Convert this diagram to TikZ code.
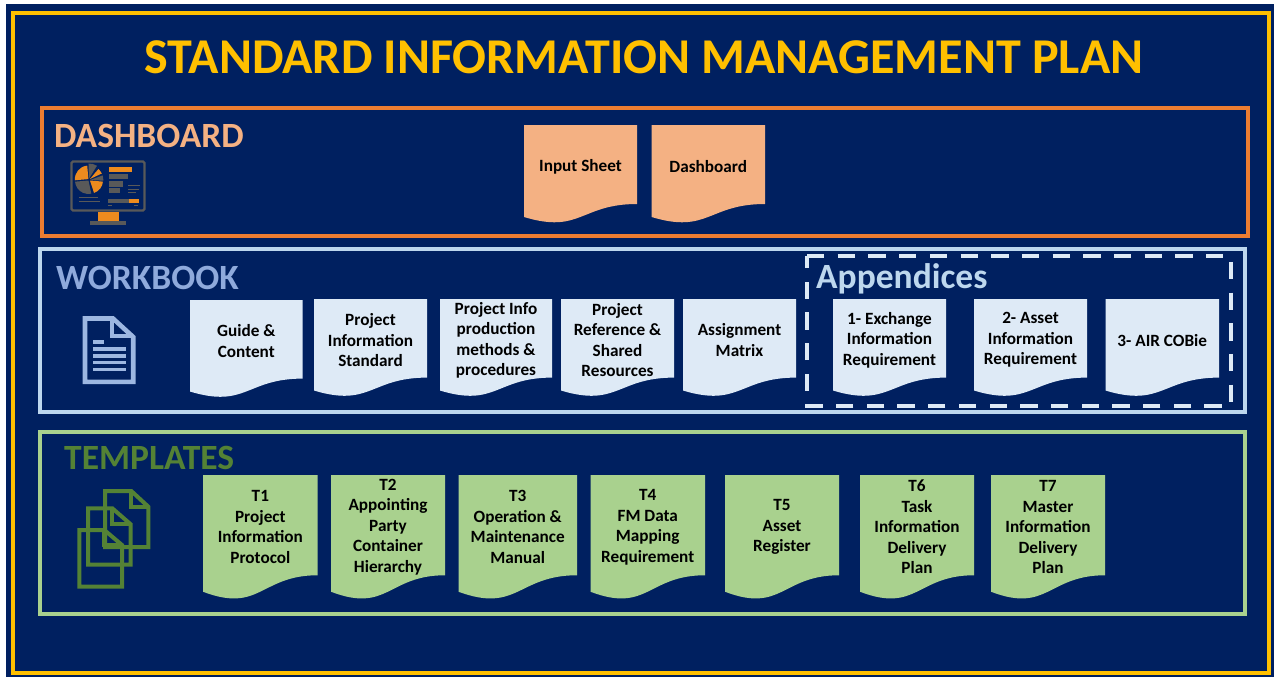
\documentclass[tikz,border=0pt]{standalone}
\usepackage{fontspec}
\setmainfont{Carlito}
\definecolor{navy}{HTML}{002060}
\definecolor{gold}{HTML}{FFC000}
\definecolor{orangeline}{HTML}{ED7D31}
\definecolor{peach}{HTML}{F4B183}
\definecolor{paleblue}{HTML}{DEEAF6}
\definecolor{lineblue}{HTML}{BDD7EE}
\definecolor{midblue}{HTML}{8FAADC}
\definecolor{leaf}{HTML}{A9D18E}
\definecolor{moss}{HTML}{548235}
\definecolor{iconorange}{HTML}{ED8B1E}
\definecolor{icongray}{HTML}{595959}
\tikzset{
  panel/.style={draw=#1,line width=4pt,fill=none},
  doctext/.style={inner sep=0pt,align=center,text=black,font=\fontsize{17.2}{20.5}\selectfont\bfseries},
  sectitle/.style={inner sep=0pt,anchor=west,font=\fontsize{35.5}{38}\selectfont\bfseries},
  igray/.style={fill=icongray,draw=none},
  iorange/.style={fill=iconorange,draw=none},
  iline/.style={draw=icongray,line width=1pt},
}
% name, left, right, top, height, colour, text
\newcommand{\docshape}[7]{%
  \pgfmathsetmacro{\dl}{#2}\pgfmathsetmacro{\dr}{#3}\pgfmathsetmacro{\dt}{#4}%
  \pgfmathsetmacro{\dm}{(#2+#3)/2}%
  \pgfmathsetmacro{\dyr}{#4+0.802*#5}\pgfmathsetmacro{\dyl}{#4+0.934*#5}\pgfmathsetmacro{\dyc}{#4+1.108*#5}%
  \pgfmathsetmacro{\dyt}{#4+0.405*#5+1.5}%
  \fill[#6] (\dl,\dt) -- (\dr,\dt) -- (\dr,\dyr) .. controls (\dm,\dyr) and (\dm,\dyc) .. (\dl,\dyl) -- cycle;%
  \node[doctext] (#1) at (\dm,\dyt) {#7};%
}
\begin{document}
\begin{tikzpicture}[yscale=-1,x=1pt,y=1pt]
\useasboundingbox (0,0) rectangle (1274,677);
\fill[white] (0,0) rectangle (1274,677);
\fill[navy] (6,4) rectangle (1274,677);
\draw[panel=gold] (13,13.5) rectangle (1269,672.5);
\node[inner sep=0pt,text=gold,font=\fontsize{50.1}{54}\selectfont\bfseries] (title) at (644,57) {STANDARD INFORMATION MANAGEMENT PLAN};

% panels
\draw[panel=orangeline] (42,108) rectangle (1248,236);
\draw[panel=lineblue] (40,249) rectangle (1245,412);
\draw[panel=leaf] (40,431.5) rectangle (1245,614);
\draw[draw=paleblue,line width=4pt,dash pattern=on 17.3pt off 13.4pt] (807,256) -- (1231,256) -- (1231,406) -- (807,406) -- cycle;

\node[sectitle,text=peach] (dashlabel) at (54,135.5) {DASHBOARD};
\node[sectitle,text=midblue] (worklabel) at (56,277.5) {WORKBOOK};
\node[sectitle,text=moss] (templabel) at (64,457.5) {TEMPLATES};
\node[sectitle,text=lineblue] (applabel) at (816,278.5) {Appendices};

% dashboard documents
\docshape{d1}{524}{637}{125}{98.5}{peach}{Input Sheet}
\docshape{d2}{651.5}{765}{125}{98.5}{peach}{Dashboard}

% workbook documents
\docshape{w1}{190}{302.6}{300}{98}{paleblue}{Guide \&\\Content}
\docshape{w2}{314}{427}{299}{98}{paleblue}{Project\\Information\\Standard}
\docshape{w3}{440}{552}{299}{98}{paleblue}{Project Info\\production\\methods \&\\procedures}
\docshape{w4}{561}{674}{299}{98}{paleblue}{Project\\Reference \&\\Shared\\Resources}
\docshape{w5}{683}{796}{299}{98}{paleblue}{Assignment\\Matrix}
\docshape{a1}{833}{946}{299}{98}{paleblue}{1- Exchange\\Information\\Requirement}
\docshape{a2}{974}{1087}{299}{98}{paleblue}{2- Asset\\Information\\Requirement}
\docshape{a3}{1105.5}{1219}{299}{98}{paleblue}{3- AIR COBie}

% template documents
\docshape{t1}{203}{317.7}{475}{125}{leaf}{T1\\Project\\Information\\Protocol}
\docshape{t2}{331}{445}{475}{125}{leaf}{T2\\Appointing\\Party\\Container\\Hierarchy}
\docshape{t3}{458.5}{577}{475}{125}{leaf}{T3\\Operation \&\\Maintenance\\Manual}
\docshape{t4}{590.5}{705}{475}{125}{leaf}{T4\\FM Data\\Mapping\\Requirement}
\docshape{t5}{725}{839}{475}{125}{leaf}{T5\\Asset\\Register}
\docshape{t6}{860}{974}{475}{125}{leaf}{T6\\Task\\Information\\Delivery\\Plan}
\docshape{t7}{991}{1105}{475}{125}{leaf}{T7\\Master\\Information\\Delivery\\Plan}

% monitor icon
\draw[icongray,line width=2.4pt,rounded corners=1.5pt] (71.5,161.5) rectangle (144.5,210.5);
\fill[iorange] (97.7,211.5) rectangle (119,220.7);
\fill[igray] (90,220.7) rectangle (126,225.3);
\begin{scope}[shift={(89,179.5)},yscale=-1]
  \fill[iorange] (-0.6,0.4) -- ++(95:13.5) arc[start angle=95,end angle=185,radius=13.5] -- cycle;
  \fill[igray] (0,1) -- ++(58:15) arc[start angle=58,end angle=92,radius=15] -- cycle;
  \fill[iorange] (1,0.5) -- ++(25:13) arc[start angle=25,end angle=50,radius=13] -- cycle;
  \fill[igray] (1,-0.5) -- ++(-3:13.5) arc[start angle=-3,end angle=20,radius=13.5] -- cycle;
  \fill[iorange] (1,-1) -- ++(-72:13) arc[start angle=-72,end angle=-5,radius=13] -- cycle;
  \fill[igray] (-0.5,-1) -- ++(-175:13.5) arc[start angle=-175,end angle=-78,radius=13.5] -- cycle;
\end{scope}
\fill[iorange] (109.3,166.7) rectangle (132.3,172.3);
\fill[igray] (109.3,174) rectangle (128,179.3);
\fill[igray] (109.3,181.3) rectangle (123.3,186.7);
\fill[igray] (109.3,188.3) rectangle (120,193.3);
\draw[iline] (128.3,185) -- (140,185);
\draw[iline] (128.3,189.3) -- (139.3,189.3);
\draw[iline] (128.3,192.7) -- (136,192.7);
\draw[iline] (79.3,197.7) -- (98.3,197.7);
\draw[iline] (79.3,201) -- (100,201);
\fill[igray] (107.7,199.3) rectangle (129,203.3);
\fill[iorange] (129,199.3) rectangle (139,203.3);
\draw[iline] (107.7,205.7) -- (111.7,205.7);
\draw[iline] (134,205.7) -- (138.3,205.7);

% document icon
\begin{scope}[draw=midblue!70!lineblue]
  \draw[line width=4.6pt,line join=miter] (85,318.5) -- (113,318.5) -- (133.2,337) -- (133.2,381.8) -- (85,381.8) -- cycle;
  \draw[line width=4.4pt] (111.7,318.5) -- (111.7,335.7) -- (133.2,335.7);
  \draw[line width=3.4pt] (93.3,342) -- (104,342);
  \draw[line width=3.4pt] (93.3,349) -- (125.7,349);
  \draw[line width=3.4pt] (93.3,356) -- (125.7,356);
  \draw[line width=3.4pt] (93.3,362.7) -- (125.7,362.7);
  \draw[line width=3.4pt] (93.3,369.7) -- (125.7,369.7);
\end{scope}

% templates icon
\begin{scope}[draw=moss,line width=4pt]
  \draw (105,491) -- (131.3,491) -- (148.3,506.7) -- (148.3,547) -- (105,547) -- cycle;
  \draw (131.3,491) -- (131.3,506.7) -- (148.3,506.7);
  \draw (88,508.3) -- (112.3,508.3) -- (130.7,524.3) -- (130.7,564.7) -- (88,564.7) -- cycle;
  \draw (112.3,508.3) -- (112.3,524.3) -- (130.7,524.3);
  \draw (79.3,530) -- (104.3,530) -- (122,545) -- (122,586.7) -- (79.3,586.7) -- cycle;
  \draw (104.3,530) -- (104.3,545) -- (122,545);
\end{scope}
\end{tikzpicture}
\end{document}
